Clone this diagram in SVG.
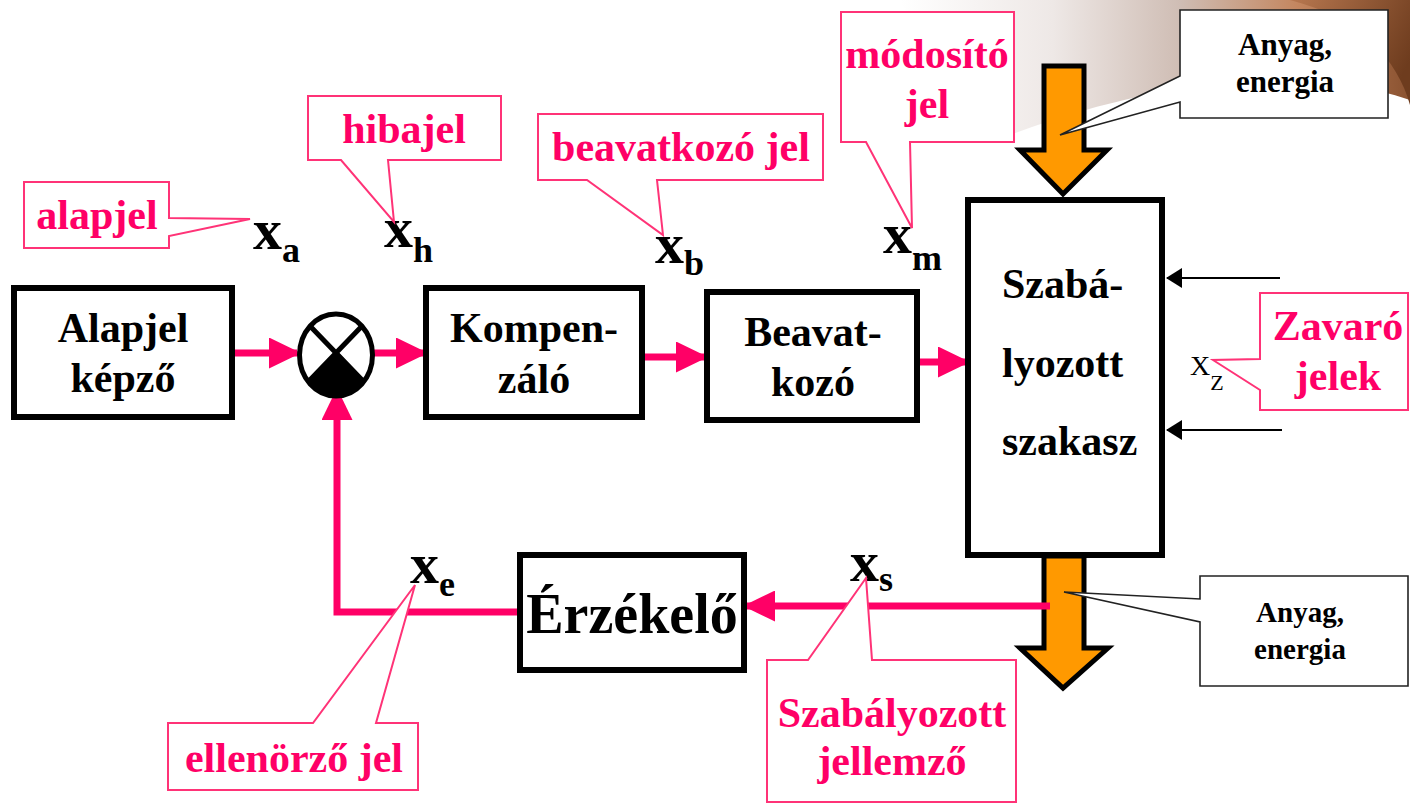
<svg xmlns="http://www.w3.org/2000/svg" width="1410" height="804" viewBox="0 0 1410 804">
  <defs>
    <linearGradient id="sweep" x1="900" y1="0" x2="1410" y2="0" gradientUnits="userSpaceOnUse">
      <stop offset="0" stop-color="#ffffff"/>
      <stop offset="0.3" stop-color="#eee8e6"/>
      <stop offset="0.55" stop-color="#cfbdb4"/>
      <stop offset="0.78" stop-color="#c4865f"/>
      <stop offset="1" stop-color="#8a5230"/>
    </linearGradient>
    <linearGradient id="sweepDark" x1="1290" y1="0" x2="1410" y2="60" gradientUnits="userSpaceOnUse">
      <stop offset="0" stop-color="#b87850"/>
      <stop offset="1" stop-color="#6e3c1e"/>
    </linearGradient>
    <marker id="pinkHead" viewBox="0 0 32 31" refX="28" refY="15.5" markerWidth="32" markerHeight="31" markerUnits="userSpaceOnUse" orient="auto">
      <path d="M0,0 L32,15.5 L0,31 Z" fill="#ff0066"/>
    </marker>
    <marker id="blackHead" viewBox="0 0 16 20" refX="15" refY="10" markerWidth="16" markerHeight="20" markerUnits="userSpaceOnUse" orient="auto">
      <path d="M0,0 L16,10 L0,20 Z" fill="#000"/>
    </marker>
  </defs>
  <style>
    .block { fill: #fff; stroke: #000; stroke-width: 6; }
    .btxt { font-family: "Liberation Serif", "Times New Roman", serif; font-weight: bold; font-size: 42px; fill: #000; }
    .ptxt { font-family: "Liberation Serif", "Times New Roman", serif; font-weight: bold; font-size: 42px; fill: #ff0066; text-anchor: middle; }
    .call { fill: #fff; stroke: #ff3377; stroke-width: 2; stroke-linejoin: miter; }
    .ncall { fill: #fff; stroke: #222; stroke-width: 1.6; }
    .ntxt { font-family: "Liberation Serif", "Times New Roman", serif; font-weight: bold; font-size: 31px; fill: #000; text-anchor: middle; }
    .sig { font-family: "Liberation Serif", "Times New Roman", serif; font-weight: bold; font-size: 58px; fill: #000; }
    .sub { font-size: 36px; }
    .flow { fill: none; stroke: #ff0066; stroke-width: 7; marker-end: url(#pinkHead); }
    .dist { fill: none; stroke: #000; stroke-width: 2; marker-end: url(#blackHead); }
    .mat { fill: #ff9900; stroke: #000; stroke-width: 5; stroke-linejoin: miter; }
    .mid { text-anchor: middle; }
  </style>

  <!-- decorative sweep in the upper right corner -->
  <path d="M900,0 H1410 V100 C1300,62 1150,82 1010,135 C960,90 920,40 900,0 Z" fill="url(#sweep)"/>
  <path d="M1290,0 H1410 V105 C1398,60 1360,18 1290,0 Z" fill="url(#sweepDark)"/>

  <!-- material / energy flow through the plant -->
  <g id="material-in">
    <path class="mat" d="M1044,66 H1084 V150 H1107 L1063,194 L1020,150 H1044 Z"/>
  </g>
  <g id="material-out">
    <path class="mat" d="M1044,556 H1084 V648 H1108 L1063,688 L1020,648 H1044 Z"/>
  </g>

  <!-- signal connectors -->
  <g id="connectors">
    <path class="flow" d="M235,353 H297"/>
    <path class="flow" d="M374,353 H424"/>
    <path class="flow" d="M645,357 H704"/>
    <path class="flow" d="M920,362 H966"/>
    <path class="flow" d="M1050,606 H747"/>
    <path class="flow" d="M517,612 H337 V392"/>
    <path class="dist" d="M1280,278 H1167"/>
    <path class="dist" d="M1282,430 H1167"/>
  </g>

  <g id="alapjel-kepzo">
    <rect class="block" x="14" y="288" width="218" height="129"/>
    <text class="btxt mid" x="123" y="342">Alapjel</text>
    <text class="btxt mid" x="123" y="392">képző</text>
  </g>

  <g id="osszegzo">
    <ellipse cx="336" cy="355" rx="36.5" ry="41" fill="#fff" stroke="#000" stroke-width="5"/>
    <path d="M337,351 L309,381 Q320,396 337,396 Q354,396 365,381 Z" fill="#000"/>
    <path d="M310,326 L364,382 M362,326 L308,382" stroke="#000" stroke-width="5" fill="none"/>
  </g>

  <g id="kompenzalo">
    <rect class="block" x="426" y="288" width="216" height="129"/>
    <text class="btxt mid" x="534" y="342">Kompen-</text>
    <text class="btxt mid" x="534" y="393">záló</text>
  </g>

  <g id="beavatkozo">
    <rect class="block" x="707" y="292" width="210" height="128"/>
    <text class="btxt mid" x="813" y="346">Beavat-</text>
    <text class="btxt mid" x="813" y="396">kozó</text>
  </g>

  <g id="szabalyozott-szakasz">
    <rect class="block" x="968" y="200" width="194" height="355"/>
    <text class="btxt" x="1002" y="298">Szabá-</text>
    <text class="btxt" x="1002" y="377">lyozott</text>
    <text class="btxt" x="1002" y="455">szakasz</text>
  </g>

  <g id="erzekelo">
    <rect class="block" x="520" y="555" width="224" height="115"/>
    <text class="btxt mid" x="632" y="633" style="font-size:56px">Érzékelő</text>
  </g>

  <!-- signal names -->
  <g id="signals">
    <text class="sig" x="253" y="249">x<tspan class="sub" dy="13">a</tspan></text>
    <text class="sig" x="384" y="247">x<tspan class="sub" dy="15">h</tspan></text>
    <text class="sig" x="655" y="263">x<tspan class="sub" dy="12">b</tspan></text>
    <text class="sig" x="883" y="253">x<tspan class="sub" dy="17">m</tspan></text>
    <text class="sig" x="410" y="583">x<tspan class="sub" dy="13">e</tspan></text>
    <text class="sig" x="850" y="581">x<tspan class="sub" dy="10">s</tspan></text>
    <text x="1190" y="375" style="font-family:'Liberation Serif','Times New Roman',serif;font-size:28px;fill:#000">X<tspan dy="15" style="font-size:22px">Z</tspan></text>
  </g>

  <!-- explanatory callouts -->
  <g id="callout-alapjel">
    <path class="call" d="M24,182 H169 V218 L250,219 L169,236 V248 H24 Z"/>
    <text class="ptxt" x="97" y="229">alapjel</text>
  </g>
  <g id="callout-hibajel">
    <path class="call" d="M308,96 H501 V160 H388 L394,222 L341,160 H308 Z"/>
    <text class="ptxt" x="404" y="143">hibajel</text>
  </g>
  <g id="callout-beavatkozo-jel">
    <path class="call" d="M538,114 H823 V180 H657 L663,235 L587,180 H538 Z"/>
    <text class="ptxt" x="681" y="161">beavatkozó jel</text>
  </g>
  <g id="callout-modosito-jel">
    <path class="call" d="M841,12 H1014 V142 H910 L912,228 L866,142 H841 Z"/>
    <text class="ptxt" x="927" y="68">módosító</text>
    <text class="ptxt" x="927" y="118">jel</text>
  </g>
  <g id="callout-zavaro-jelek">
    <path class="call" d="M1260,293 H1408 V410 H1260 V390 L1213,360 L1260,359 Z"/>
    <text class="ptxt" x="1338" y="340">Zavaró</text>
    <text class="ptxt" x="1338" y="390">jelek</text>
  </g>
  <g id="callout-ellenorzo-jel">
    <path class="call" d="M168,723 H313 L415,585 L376,723 H418 V790 H168 Z"/>
    <text class="ptxt" x="294" y="772">ellenörző jel</text>
  </g>
  <g id="callout-szabalyozott-jellemzo">
    <path class="call" d="M767,660 H808 L866,578 L872,660 H1016 V802 H767 Z"/>
    <text class="ptxt" x="892" y="727">Szabályozott</text>
    <text class="ptxt" x="892" y="775">jellemző</text>
  </g>
  <g id="callout-anyag-be">
    <path class="ncall" d="M1180,10 H1388 V118 H1180 V102 L1060,135 L1180,76 Z"/>
    <text class="ntxt" x="1285" y="55">Anyag,</text>
    <text class="ntxt" x="1285" y="92">energia</text>
  </g>
  <g id="callout-anyag-ki">
    <path class="ncall" d="M1200,576 H1408 V686 H1200 V622 L1064,592 L1200,599 Z"/>
    <text class="ntxt" x="1300" y="622" style="font-size:29px">Anyag,</text>
    <text class="ntxt" x="1300" y="659" style="font-size:29px">energia</text>
  </g>
</svg>
